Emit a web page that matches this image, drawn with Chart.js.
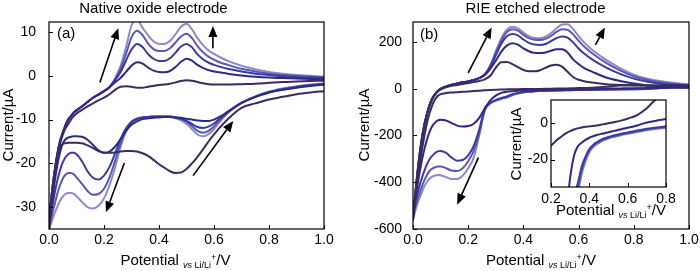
<!DOCTYPE html>
<html><head><meta charset="utf-8">
<script src="https://cdn.jsdelivr.net/npm/chart.js@4/dist/chart.umd.min.js"></script>
<style>
html,body{margin:0;padding:0;background:#fff;}
#wrap{position:relative;width:700px;height:271px;overflow:hidden;background:#fff;}
canvas{position:absolute;}
</style></head><body>
<div id="wrap">
<canvas id="ca" width="350" height="271" style="left:0;top:0"></canvas>
<canvas id="cb" width="350" height="271" style="left:350px;top:0"></canvas>
<canvas id="ci" width="190" height="145" style="left:495px;top:80px"></canvas>
</div>
<script>
// ---------- data ----------
const potential = [0,0.01,0.02,0.03,0.04,0.05,0.06,0.07,0.08,0.09,0.10,0.12,0.14,0.16,0.18,0.20,0.22,0.24,0.26,0.28,0.30,0.32,0.34,0.36,0.38,0.40,0.42,0.44,0.46,0.48,0.50,0.52,0.54,0.56,0.58,0.60,0.62,0.65,0.70,0.75,0.80,0.85,0.90,0.95,1.00];

// Panel (a) native oxide electrode, current in µA (anodic = positive sweep, cathodic = negative sweep)
const aAnodic1 = [-35,-29,-23,-18.5,-15.5,-13.5,-12,-11,-10,-9.2,-8.6,-7.8,-7,-6.3,-5.6,-5,-4.2,-3.2,-2.5,-2.4,-2.5,-2.7,-2.7,-2.5,-2.3,-2.1,-2.0,-1.8,-1.5,-1.2,-1.0,-1.1,-1.4,-1.7,-1.9,-2.0,-2.0,-2.0,-1.9,-1.8,-1.6,-1.4,-1.3,-1.2,-1.1];
const aAnodic2 = [-33,-27,-22,-18,-15,-13,-11.3,-10,-9.2,-8.4,-7.9,-7,-6,-5,-4.3,-3.5,-2.6,-1.5,-0.5,0.9,2.3,3.1,2.8,1.9,1.2,0.9,0.8,1.1,2.0,3.2,3.9,3.5,2.5,1.8,1.3,1.0,0.8,0.5,0.1,-0.2,-0.4,-0.5,-0.6,-0.7,-0.8];
const aAnodic3 = [-33,-27,-22,-18,-15,-13,-11.3,-10,-9.2,-8.4,-7.9,-7,-6,-5,-4.3,-3.5,-2.6,-1.0,0.8,3.5,6.0,7.3,6.6,5.0,3.9,3.4,3.4,4.0,5.3,6.7,7.3,6.5,4.9,3.8,3.0,2.5,2.1,1.6,1.0,0.5,0.2,-0.1,-0.3,-0.4,-0.5];
const aAnodic4 = [-33,-27,-22,-18,-15,-13,-11.3,-10,-9.2,-8.4,-7.9,-7,-6,-5,-4.3,-3.5,-2.6,-0.8,1.5,5.0,8.8,10.3,9.3,7.4,6.1,5.7,5.7,6.3,7.6,9.0,9.6,8.6,6.8,5.4,4.4,3.7,3.1,2.5,1.6,1.0,0.5,0.2,0.0,-0.2,-0.3];
const aAnodic5 = [-33,-27,-22,-18,-15,-13,-11.3,-10,-9.2,-8.4,-7.9,-7,-6,-5,-4.3,-3.5,-2.6,-0.6,2.2,6.5,11.5,12.8,11.0,9.3,7.9,7.3,7.3,8.0,9.5,11.2,11.9,10.6,8.6,7.0,5.8,5.0,4.3,3.4,2.3,1.5,0.9,0.5,0.2,0.0,-0.2];
const aCathodic1 = [-35,-29,-23,-18.5,-16.3,-15.6,-15.4,-15.3,-15.3,-15.3,-15.3,-15.4,-15.9,-16.5,-17.2,-17.6,-17.6,-17.5,-17.3,-17.2,-17.2,-17.3,-17.7,-18.3,-19.2,-20.2,-21,-21.8,-22.2,-22.1,-21.3,-20,-18.5,-16.8,-15,-13.4,-11.9,-9.9,-7.3,-6.3,-5.4,-4.8,-4.2,-3.8,-3.5];
const aCathodic2 = [-34,-29.5,-24.5,-20.5,-17.5,-15.5,-14.5,-14.1,-13.9,-13.8,-13.8,-13.9,-14.6,-15.8,-17.0,-17.6,-17.3,-16.2,-14.5,-12.6,-11.2,-10.4,-9.9,-9.7,-9.6,-9.5,-9.4,-9.4,-9.5,-9.6,-9.8,-10.0,-10.2,-10.3,-10.3,-10.0,-9.4,-8.2,-6.2,-4.8,-3.8,-3.2,-2.7,-2.3,-2.0];
const aCathodic3 = [-34,-30.5,-27,-24,-21.6,-19.8,-18.6,-17.9,-17.6,-17.6,-17.9,-19.5,-21.8,-23.3,-23.7,-22.8,-20.8,-17.8,-14.5,-12.0,-10.5,-9.8,-9.5,-9.4,-9.3,-9.3,-9.3,-9.3,-9.5,-9.8,-10.3,-11.0,-11.7,-11.9,-11.6,-10.9,-9.8,-8.3,-6.2,-4.8,-3.8,-3.1,-2.6,-2.2,-1.9];
const aCathodic4 = [-35,-32,-29.5,-27,-25,-23.5,-22.6,-22.2,-22.2,-22.5,-23.2,-24.7,-26.3,-27.2,-27.0,-25.8,-23.2,-19.5,-15.5,-12.4,-10.6,-9.8,-9.5,-9.4,-9.3,-9.3,-9.3,-9.3,-9.5,-9.9,-10.5,-11.5,-12.6,-13.0,-12.6,-11.6,-10.2,-8.4,-6.2,-4.8,-3.7,-3.0,-2.5,-2.1,-1.8];
const aCathodic5 = [-35,-33.3,-31.5,-30,-28.6,-27.6,-27.0,-26.8,-26.8,-27.0,-27.5,-28.8,-30.0,-30.3,-29.7,-28.0,-25.0,-21.0,-16.3,-12.8,-10.8,-9.9,-9.6,-9.5,-9.4,-9.4,-9.4,-9.4,-9.7,-10.2,-11.0,-12.2,-13.4,-13.8,-13.3,-12.2,-10.6,-8.5,-6.2,-4.7,-3.6,-2.9,-2.4,-2.0,-1.7];

// Panel (b) RIE etched electrode, current in µA
const bAnodic1 = [-560,-440,-330,-240,-170,-115,-75,-45,-25,-12,-3,6,12,16,20,24,28,33,40,55,90,113,114,105,92,80,74,74,79,89,99,102,94,72,50,38,32,26,19,16,15,14,13.5,13,13];
const bAnodic2 = [-550,-430,-320,-230,-160,-110,-70,-42,-24,-10,-1,9,17,22,27,31,37,45,58,85,120,158,184,194,188,172,160,153,152,155,162,168,168,155,125,105,88,72,48,33,22,14,9,6,4];
const bAnodic3 = [-550,-430,-320,-230,-160,-110,-70,-42,-24,-10,-1,9,17,22,27,31,37,45,60,93,143,192,224,234,228,210,196,189,187,191,203,216,223,218,198,172,150,124,90,63,43,30,21,15,11];
const bAnodic4 = [-550,-430,-320,-230,-160,-110,-70,-42,-24,-10,-1,9,17,22,27,31,37,45,61,97,152,205,242,254,248,230,216,209,208,213,226,243,254,252,232,205,180,150,110,78,53,37,27,20,15];
const bAnodic5 = [-550,-430,-320,-230,-160,-110,-70,-42,-24,-10,-1,9,17,22,27,31,37,45,62,100,160,215,252,265,258,240,225,217,216,222,238,258,274,275,255,225,198,165,123,88,60,42,32,24,18];
const bCathodic1 = [-560,-450,-360,-280,-210,-150,-105,-70,-45,-30,-24,-19,-16.5,-15,-13.7,-12.4,-10.4,-8.6,-7,-5.6,-4.5,-3.6,-3.0,-2.5,-2.1,-1.9,-1.7,-1.4,-1.0,-0.6,-0.2,0.2,0.6,1.1,1.7,2.3,3.0,4.3,8,13,14,14,14,13.5,13];
const bCathodic2 = [-540,-460,-385,-320,-265,-220,-185,-160,-145,-136,-133,-136,-147,-158,-162,-160,-150,-125,-85,-50,-30,-18,-12.8,-10.8,-9.3,-8.1,-7.3,-6.6,-6.0,-5.6,-5.1,-4.6,-4.1,-3.6,-3.1,-2.7,-2.2,-1.4,0.2,1.2,2.2,3.0,3.6,4.0,4.2];
const bCathodic3 = [-540,-480,-430,-390,-355,-325,-302,-287,-275,-268,-267,-275,-295,-308,-305,-285,-245,-175,-85,-60,-48,-40,-33,-24,-18.5,-14.3,-12,-10.5,-9.3,-8.4,-7.7,-7.1,-6.6,-6.1,-5.6,-5.2,-4.8,-4.2,-3.2,-2.5,-1.8,0,3,6,11];
const bCathodic4 = [-550,-500,-460,-425,-395,-370,-352,-342,-336,-333,-333,-340,-350,-352,-340,-310,-265,-190,-90,-62,-50,-42,-36,-26,-19.5,-15,-12.6,-11,-9.8,-8.8,-8.1,-7.5,-7.0,-6.5,-6.0,-5.6,-5.2,-4.6,-3.6,-2.9,-2.2,-0.5,3,8,15];
const bCathodic5 = [-560,-515,-480,-450,-420,-400,-385,-376,-371,-369,-370,-378,-386,-386,-372,-340,-295,-200,-95,-64,-52,-44,-38,-28,-21,-16,-13.3,-11.6,-10.3,-9.3,-8.5,-7.9,-7.4,-6.9,-6.4,-6.0,-5.6,-5.0,-4.0,-3.2,-2.6,-1,4,10,18];

// ticks
const xTicks = [0, 0.2, 0.4, 0.6, 0.8, 1.0];
const aYTicks = [-30, -20, -10, 0, 10];
const bYTicks = [-600, -400, -200, 0, 200];
const insetXTicks = [0.2, 0.4, 0.6, 0.8];
const insetYTicks = [-20, 0];

// arrows [x1,y1,x2,y2] (tail -> head) in data units
const arrowsA = [[0.185,-1.5,0.252,10.9],[0.596,6.3,0.596,11.4],[0.524,-22.8,0.67,-10.3],[0.274,-19.9,0.207,-31.2]];
const arrowsB = [[0.2,67,0.285,262],[0.661,187,0.695,262],[0.237,-295,0.16,-496]];

const cycleColors = ['#3d2b5c','#2a2a86','#3a3a9e','#5858b4','#8a8aca'];

// ---------- helpers ----------
const FONT = "'Liberation Sans', Arial, Helvetica, sans-serif";
const pts = ys => potential.map((x, i) => ({x: x, y: ys[i]}));

function makeSets(anodic, cathodic) {
  const sets = [];
  for (let i = 0; i < cathodic.length; i++) {
    const col = cycleColors[i];
    if (anodic) sets.push({data: pts(anodic[i]), borderColor: col});
    sets.push({data: pts(cathodic[i]), borderColor: col});
  }
  return sets.map(s => Object.assign(s, {showLine: true, pointRadius: 0, borderWidth: 2,
    cubicInterpolationMode: 'monotone', fill: false, clip: 0, borderJoinStyle: 'round', borderCapStyle: 'round'}));
}

function drawArrow(ctx, x1, y1, x2, y2) {
  const ang = Math.atan2(y2 - y1, x2 - x1), L = 11, W = 4.5;
  const bx = x2 - L * Math.cos(ang), by = y2 - L * Math.sin(ang);
  ctx.strokeStyle = '#000'; ctx.fillStyle = '#000'; ctx.lineWidth = 1.6;
  ctx.beginPath(); ctx.moveTo(x1, y1); ctx.lineTo(bx, by); ctx.stroke();
  ctx.beginPath(); ctx.moveTo(x2, y2);
  ctx.lineTo(bx + W * Math.sin(ang), by - W * Math.cos(ang));
  ctx.lineTo(bx - W * Math.sin(ang), by + W * Math.cos(ang));
  ctx.closePath(); ctx.fill();
}

function drawPotentialTitle(ctx, cx, base, big, small) {
  const parts = [
    {t: 'Potential ', f: big + 'px ' + FONT, dy: 0},
    {t: 'vs', f: 'italic ' + small + 'px ' + FONT, dy: 3},
    {t: ' Li/Li', f: small + 'px ' + FONT, dy: 3},
    {t: '+', f: small + 'px ' + FONT, dy: -5},
    {t: '/V', f: big + 'px ' + FONT, dy: 0}];
  let w = 0;
  parts.forEach(p => { ctx.font = p.f; p.w = ctx.measureText(p.t).width; w += p.w; });
  let x = cx - w / 2;
  ctx.fillStyle = '#000'; ctx.textAlign = 'left'; ctx.textBaseline = 'alphabetic';
  parts.forEach(p => { ctx.font = p.f; ctx.fillText(p.t, x, base + p.dy); x += p.w; });
}

function drawVTitle(ctx, text, x, cy, size) {
  ctx.save();
  ctx.translate(x, cy); ctx.rotate(-Math.PI / 2);
  ctx.font = size + 'px ' + FONT; ctx.fillStyle = '#000';
  ctx.textAlign = 'center'; ctx.textBaseline = 'alphabetic';
  ctx.fillText(text, 0, 0);
  ctx.restore();
}

function decor(cfg) {
  return {
    id: 'decor',
    beforeDraw(chart) {
      if (!cfg.fill) return;
      const a = chart.chartArea, ctx = chart.ctx;
      ctx.save(); ctx.fillStyle = '#fff';
      ctx.fillRect(a.left, a.top, a.right - a.left, a.bottom - a.top);
      ctx.restore();
    },
    afterDraw(chart) {
      const ctx = chart.ctx, a = chart.chartArea, xs = chart.scales.x, ys = chart.scales.y;
      ctx.save();
      ctx.strokeStyle = '#000'; ctx.lineWidth = 1.2;
      ctx.strokeRect(a.left, a.top, a.right - a.left, a.bottom - a.top);
      ctx.beginPath();
      xs.ticks.forEach(t => { const p = Math.round(xs.getPixelForValue(t.value)) + 0.5; ctx.moveTo(p, a.bottom); ctx.lineTo(p, a.bottom - 4); });
      ys.ticks.forEach(t => { const p = Math.round(ys.getPixelForValue(t.value)) + 0.5; ctx.moveTo(a.left, p); ctx.lineTo(a.left + 4, p); });
      ctx.lineWidth = 1; ctx.stroke();
      if (cfg.yLabels) {
        ctx.font = '14px ' + FONT; ctx.fillStyle = '#000'; ctx.textAlign = 'right'; ctx.textBaseline = 'middle';
        cfg.yLabels.forEach(v => ctx.fillText(String(v), a.left - 3, ys.getPixelForValue(v)));
      }
      (cfg.arrows || []).forEach(r => drawArrow(ctx, xs.getPixelForValue(r[0]), ys.getPixelForValue(r[1]), xs.getPixelForValue(r[2]), ys.getPixelForValue(r[3])));
      if (cfg.title) {
        ctx.font = '15px ' + FONT; ctx.fillStyle = '#000'; ctx.textAlign = 'center'; ctx.textBaseline = 'alphabetic';
        ctx.fillText(cfg.title[0], cfg.title[1], cfg.title[2]);
      }
      if (cfg.tag) {
        ctx.font = '15px ' + FONT; ctx.fillStyle = '#000'; ctx.textAlign = 'left'; ctx.textBaseline = 'alphabetic';
        ctx.fillText(cfg.tag[0], cfg.tag[1], cfg.tag[2]);
      }
      drawPotentialTitle(ctx, cfg.xTitle[0], cfg.xTitle[1], 15, 9);
      drawVTitle(ctx, 'Current/\u00b5A', cfg.yTitle[0], cfg.yTitle[1], 15);
      ctx.restore();
    }
  };
}

function scales(xMin, xMax, xt, yMin, yMax, yt, yW, xH, yPad, xPad, showY) {
  return {
    x: {type: 'linear', min: xMin, max: xMax,
      afterBuildTicks: s => { s.ticks = xt.map(v => ({value: v})); },
      afterFit: s => { s.height = xH; },
      grid: {display: false}, border: {display: false},
      ticks: {callback: v => Number(v).toFixed(1), color: '#000', font: {family: FONT, size: 14}, padding: xPad, maxRotation: 0, autoSkip: false}},
    y: {type: 'linear', min: yMin, max: yMax,
      afterBuildTicks: s => { s.ticks = yt.map(v => ({value: v})); },
      afterFit: s => { s.width = yW; },
      grid: {display: false}, border: {display: false},
      ticks: {display: showY, callback: v => String(v), color: '#000', font: {family: FONT, size: 14}, padding: yPad, autoSkip: false}}
  };
}

function baseOpts(pad, sc) {
  return {responsive: false, animation: false, devicePixelRatio: 1,
    layout: {padding: pad, autoPadding: false},
    plugins: {legend: {display: false}, tooltip: {enabled: false}},
    events: [], scales: sc};
}

// Panel (a)
new Chart(document.getElementById('ca'), {
  type: 'scatter',
  data: {datasets: makeSets([aAnodic1, aAnodic2, aAnodic3, aAnodic4, aAnodic5], [aCathodic1, aCathodic2, aCathodic3, aCathodic4, aCathodic5])},
  options: baseOpts({top: 22, right: 26, left: 0, bottom: 0}, scales(0, 1, xTicks, -35, 12.3, aYTicks, 49, 42, 5, -5, true)),
  plugins: [decor({arrows: arrowsA, title: ['Native oxide electrode', 153.5, 13], tag: ['(a)', 57, 38], xTitle: [175.5, 265], yTitle: [13, 125]})]
});

// Panel (b)
new Chart(document.getElementById('cb'), {
  type: 'scatter',
  data: {datasets: makeSets([bAnodic1, bAnodic2, bAnodic3, bAnodic4, bAnodic5], [bCathodic1, bCathodic2, bCathodic3, bCathodic4, bCathodic5])},
  options: baseOpts({top: 22, right: 11, left: 0, bottom: 0}, scales(0, 1, xTicks, -600, 285, bYTicks, 63, 42, 3, -5, true)),
  plugins: [decor({arrows: arrowsB, title: ['RIE etched electrode', 185.5, 13], tag: ['(b)', 70, 39], xTitle: [191, 265], yTitle: [19, 125]})]
});

// Inset: cathodic sweeps of panel (b), zoomed
new Chart(document.getElementById('ci'), {
  type: 'scatter',
  data: {datasets: makeSets(null, [bCathodic1, bCathodic2, bCathodic3, bCathodic4, bCathodic5])},
  options: baseOpts({top: 20, right: 19, left: 0, bottom: 0}, scales(0.2, 0.8, insetXTicks, -35, 12.5, insetYTicks, 56, 38, 3, -4, false)),
  plugins: [decor({fill: true, yLabels: insetYTicks, xTitle: [116, 135], yTitle: [26, 64]})]
});
</script>
</body></html>
